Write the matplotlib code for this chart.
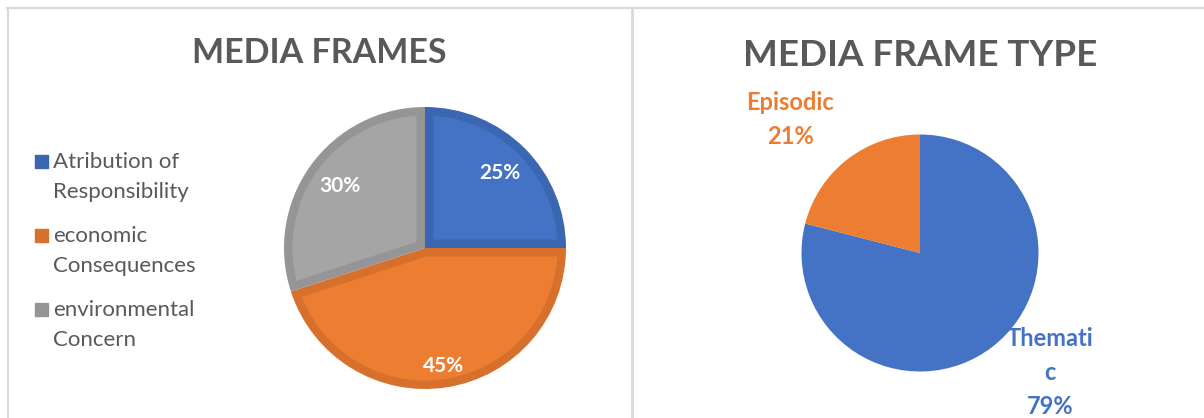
import numpy as np
import matplotlib
matplotlib.use("Agg")
import matplotlib.pyplot as plt
from matplotlib.patches import Rectangle, Polygon
from matplotlib.lines import Line2D

# data
frame_labels = ["Atribution of\nResponsibility", "economic\nConsequences", "environmental\nConcern"]
frame_values = [25, 45, 30]
type_labels = ["Themati\nc", "Episodic"]
type_values = [79, 21]

# style
frame_colors = ["#4472C4", "#ED7D31", "#A5A5A5"]
frame_edges = ["#3A66B2", "#D6702C", "#959595"]
type_colors = ["#4472C4", "#ED7D31"]
TEXT = "#595959"
FONT = "Lato"

W, H = 1204, 418
fig = plt.figure(figsize=(W / 100, H / 100), dpi=100)
fig.patch.set_facecolor("white")


def px_axes(cx, cy, r):
    # square axes centred on pixel (cx, cy) with pixel radius r
    return fig.add_axes([(cx - r) / W, (H - cy - r) / H, 2 * r / W, 2 * r / H])


def inset_wedge(w, d, color):
    # fill the inside of wedge w, leaving a band of width d as its "border"
    t1, t2 = np.deg2rad(w.theta1), np.deg2rad(w.theta2)
    R = w.r
    half = (t2 - t1) / 2
    mid = t1 + half
    apex = d / np.sin(half)
    delta = np.arcsin(d / (R - d))
    arc = np.linspace(t1 + delta, t2 - delta, 120)
    pts = [(apex * np.cos(mid), apex * np.sin(mid))]
    pts += [((R - d) * np.cos(a), (R - d) * np.sin(a)) for a in arc]
    return Polygon(pts, closed=True, facecolor=color, edgecolor="none")


# panel borders
border = "#D9D9D9"
fig.add_artist(Line2D([7 / W, 1], [1 - 8 / H, 1 - 8 / H], color=border, lw=1.5))
fig.add_artist(Line2D([7.5 / W, 7.5 / W], [0, 1 - 8 / H], color=border, lw=1.5))
fig.add_artist(Line2D([632 / W, 632 / W], [0, 1 - 8 / H], color=border, lw=2))

# ---- left: MEDIA FRAMES ----
fig.text(319 / W, 1 - 53 / H, "MEDIA FRAMES", ha="center", va="center",
         fontsize=24.5, fontweight="bold", color=TEXT, family=FONT)

ax1 = px_axes(425, 248, 141)
wedges, _ = ax1.pie(frame_values, colors=frame_edges, startangle=90,
                    counterclock=False, radius=1, wedgeprops=dict(linewidth=0))
for w, fc in zip(wedges, frame_colors):
    ax1.add_patch(inset_wedge(w, 8.5 / 141, fc))

label_dist = [0.75, 0.85, 0.75]
total = sum(frame_values)
for w, v, d in zip(wedges, frame_values, label_dist):
    ang = np.deg2rad((w.theta1 + w.theta2) / 2)
    ax1.text(d * np.cos(ang), d * np.sin(ang), f"{v / total:.0%}", ha="center",
             va="center", fontsize=15, fontweight="bold", color="white", family=FONT)
ax1.set_xlim(-1, 1)
ax1.set_ylim(-1, 1)
ax1.set_aspect("equal")
ax1.axis("off")

# legend (first-line baselines in pixels)
leg_base = [168, 242, 316]
line_pitch = 29.5
for lab, ec, yb in zip(frame_labels, frame_edges, leg_base):
    fig.add_artist(Rectangle((35 / W, 1 - (yb - 0.5) / H), 13 / W, 13 / H,
                             transform=fig.transFigure, color=ec))
    for i, line in enumerate(lab.split("\n")):
        fig.text(53 / W, 1 - (yb + i * line_pitch) / H, line, ha="left",
                 va="baseline", fontsize=16, color=TEXT, family=FONT)

# ---- right: MEDIA FRAME TYPE ----
fig.text(920 / W, 1 - 56 / H, "MEDIA FRAME TYPE", ha="center", va="center",
         fontsize=26.5, fontweight="bold", color=TEXT, family=FONT)

ax2 = px_axes(920, 253, 118.5)
wedges2, _ = ax2.pie(type_values, colors=type_colors, startangle=90,
                     counterclock=False, radius=1, wedgeprops=dict(linewidth=0))
type_dist = [1.49, 1.57]
type_shift = [9.5, 6.5]
for w, lab, v, c, d, s in zip(wedges2, type_labels, type_values, type_colors,
                              type_dist, type_shift):
    ang = np.deg2rad((w.theta1 + w.theta2) / 2 + s)
    ax2.text(d * np.cos(ang), d * np.sin(ang), f"{lab}\n{v}%", ha="center",
             va="center", fontsize=17, fontweight="bold", color=c, family=FONT,
             linespacing=1.58)
ax2.set_xlim(-1, 1)
ax2.set_ylim(-1, 1)
ax2.set_aspect("equal")
ax2.axis("off")

fig.savefig("out.png", dpi=100, facecolor="white")
